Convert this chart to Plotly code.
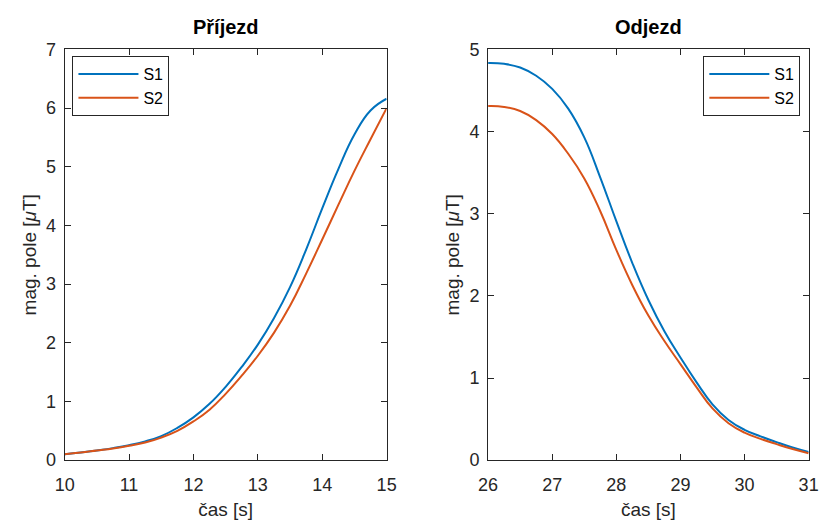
import plotly.graph_objects as go

# Příjezd (arrival) – time [s] and field magnitude [μT] for sensors S1, S2
cas_prijezd = [10.0, 10.25, 10.5, 10.75, 11.0, 11.25, 11.5, 11.75, 12.0, 12.25, 12.5,
               12.75, 13.0, 13.25, 13.5, 13.75, 14.0, 14.25, 14.5, 14.75, 15.0]
s1_prijezd = [0.10, 0.13, 0.165, 0.205, 0.255, 0.32, 0.41, 0.55, 0.73, 0.96, 1.25,
              1.59, 1.97, 2.42, 2.95, 3.59, 4.29, 4.96, 5.55, 5.96, 6.16]
s2_prijezd = [0.10, 0.13, 0.165, 0.20, 0.245, 0.30, 0.385, 0.50, 0.66, 0.86, 1.13,
              1.44, 1.78, 2.17, 2.63, 3.18, 3.76, 4.35, 4.93, 5.47, 6.00]

# Odjezd (departure)
cas_odjezd = [26.0, 26.25, 26.5, 26.75, 27.0, 27.25, 27.5, 27.75, 28.0, 28.25, 28.5,
              28.75, 29.0, 29.25, 29.5, 29.75, 30.0, 30.25, 30.5, 30.75, 31.0]
s1_odjezd = [4.835, 4.825, 4.78, 4.68, 4.52, 4.28, 3.93, 3.44, 2.91, 2.40, 1.95,
             1.57, 1.25, 0.95, 0.68, 0.49, 0.37, 0.29, 0.22, 0.155, 0.10]
s2_odjezd = [4.31, 4.30, 4.25, 4.14, 3.97, 3.73, 3.43, 3.03, 2.56, 2.13, 1.76,
             1.45, 1.17, 0.89, 0.63, 0.45, 0.335, 0.26, 0.195, 0.135, 0.085]

nazvy = ["S1", "S2"]
barvy = ["#0072BD", "#D95319"]

FONT = "Liberation Sans, Arial, Helvetica, sans-serif"
TXT = "#262626"

fig = go.Figure()

panels = [
    (cas_prijezd, [s1_prijezd, s2_prijezd], "x", "y", "legend"),
    (cas_odjezd, [s1_odjezd, s2_odjezd], "x2", "y2", "legend2"),
]
for cas, serie, xa, ya, leg in panels:
    for nazev, barva, hodnoty in zip(nazvy, barvy, serie):
        fig.add_trace(go.Scatter(
            x=cas, y=hodnoty, name=nazev, mode="lines",
            line=dict(color=barva, width=2, shape="spline", smoothing=1.3),
            xaxis=xa, yaxis=ya, legend=leg,
        ))

osa = dict(
    showline=True, linecolor=TXT, linewidth=1, mirror="ticks",
    ticks="inside", ticklen=6, tickcolor=TXT, showgrid=False, zeroline=False,
    tickfont=dict(family=FONT, size=18, color=TXT),
    title_font=dict(family=FONT, size=19, color=TXT),
)

y0, y1 = 1 - 468 / 525, 1 - 41 / 525
legenda = dict(yanchor="top", bgcolor="white", bordercolor=TXT, borderwidth=1,
               font=dict(family=FONT, size=16, color="black"),
               itemwidth=60, tracegroupgap=0)
fig.update_layout(
    width=824, height=525,
    margin=dict(l=0, r=0, t=0, b=0),
    paper_bgcolor="white", plot_bgcolor="white",
    font=dict(family=FONT, color=TXT),
    xaxis=dict(osa, domain=[56 / 824, 386 / 824], range=[10, 15], dtick=1,
               ticklabelstandoff=8,
               title=dict(text="čas [s]", standoff=8), anchor="y"),
    yaxis=dict(osa, domain=[y0, y1], range=[0, 7], dtick=1, ticklabelstandoff=4,
               title=dict(text="mag. pole [<i>μ</i>T]", standoff=4), anchor="x"),
    xaxis2=dict(osa, domain=[490 / 824, 818.5 / 824], range=[26, 31], dtick=1,
                ticklabelstandoff=8,
                title=dict(text="čas [s]", standoff=8), anchor="y2"),
    yaxis2=dict(osa, domain=[y0, y1], range=[0, 5], dtick=1, ticklabelstandoff=4,
                title=dict(text="mag. pole [<i>μ</i>T]", standoff=4), anchor="x2"),
    legend=dict(legenda, x=64 / 824, y=1 - 48 / 525, xanchor="left"),
    legend2=dict(legenda, x=810 / 824, y=1 - 48 / 525, xanchor="right"),
    annotations=[
        dict(text="<b>Příjezd</b>", xref="x domain", yref="y domain", x=0.5, y=1,
             yshift=9, xanchor="center", yanchor="bottom", showarrow=False,
             font=dict(family=FONT, size=20, color="black")),
        dict(text="<b>Odjezd</b>", xref="x2 domain", yref="y2 domain", x=0.5, y=1,
             yshift=9, xanchor="center", yanchor="bottom", showarrow=False,
             font=dict(family=FONT, size=20, color="black")),
    ],
    showlegend=True,
)

fig.write_html("out.html")
